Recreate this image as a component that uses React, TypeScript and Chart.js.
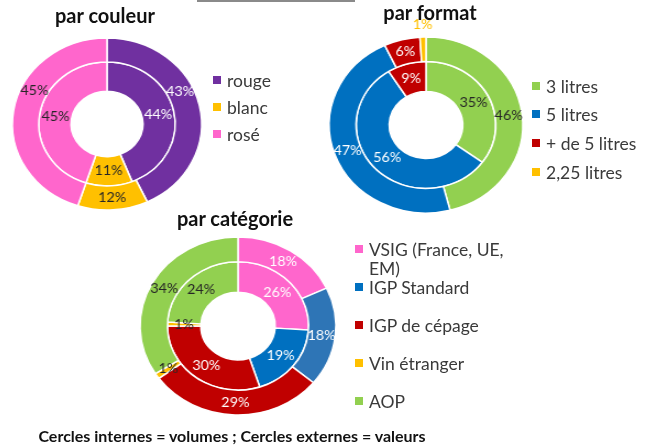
import React, { useEffect, useRef } from "react";
import { Chart, registerables } from "chart.js";

Chart.register(...registerables);

// ---- Data ----
const couleurLabels = ["rouge", "blanc", "rosé"];
const couleurValeurs = [43, 12, 45]; // cercle externe = valeurs
const couleurVolumes = [44, 11, 45]; // cercle interne = volumes

const formatLabels = ["3 litres", "5 litres", "+ de 5 litres", "2,25 litres"];
const formatValeurs = [46, 47, 6, 1];
const formatVolumes = [35, 56, 9, 0];

const categorieLabels = ["VSIG (France, UE, EM)", "IGP Standard", "IGP de cépage", "Vin étranger", "AOP"];
const categorieValeurs = [18, 18, 29, 1, 34];
const categorieVolumes = [26, 19, 30, 1, 24];

const titles = ["par couleur", "par format", "par catégorie"];
const footer = "Cercles internes = volumes ; Cercles externes = valeurs";

// ---- Styles ----
const PURPLE = "#7030A0";
const YELLOW = "#FFC000";
const PINK = "#FF66CC";
const GREEN = "#92D050";
const BLUE = "#0070C0";
const BLUE2 = "#2E75B6";
const RED = "#C00000";
const DARK = "#262626";
const WHITE = "#ffffff";
const FONT = "Lato, 'Open Sans', sans-serif";

const labelPlugin = {
  id: "ringLabels",
  afterDatasetsDraw(chart: any, _args: any, opts: any) {
    const ctx = chart.ctx;
    ctx.save();
    ctx.font = `13px ${FONT}`;
    ctx.textAlign = "center";
    ctx.textBaseline = "middle";
    chart.data.datasets.forEach((ds: any, i: number) => {
      const meta = chart.getDatasetMeta(i);
      meta.data.forEach((arc: any, j: number) => {
        const v = ds.data[j];
        if (!v) return;
        const p = arc.getProps(["x", "y", "startAngle", "endAngle", "innerRadius", "outerRadius"], true);
        let ang = (p.startAngle + p.endAngle) / 2;
        const ov = opts.angles && opts.angles[i] && opts.angles[i][j];
        if (ov != null) ang = ((ov - 90) * Math.PI) / 180;
        let r = (p.innerRadius + p.outerRadius) / 2;
        const out = opts.outside && opts.outside.some((o: number[]) => o[0] === i && o[1] === j);
        if (out) r = p.outerRadius + 12;
        ctx.fillStyle = opts.colors[i][j];
        ctx.fillText(`${v}%`, p.x + r * Math.cos(ang), p.y + r * Math.sin(ang));
      });
    });
    ctx.restore();
  },
};

type RingProps = {
  cx: number;
  cy: number;
  radius: number;
  labels: string[];
  outer: number[];
  inner: number[];
  outerColors: string[];
  innerColors: string[];
  labelColors: string[][];
  angles?: (number | null)[][];
  outside?: number[][];
};

const SIZE = 220;

function Ring(props: RingProps) {
  const ref = useRef<HTMLCanvasElement>(null);
  useEffect(() => {
    if (!ref.current) return;
    const chart = new Chart(ref.current, {
      type: "doughnut",
      data: {
        labels: props.labels,
        datasets: [
          { data: props.outer, backgroundColor: props.outerColors, borderColor: WHITE, borderWidth: 1.5, weight: 1 },
          { data: props.inner, backgroundColor: props.innerColors, borderColor: WHITE, borderWidth: 1.5, weight: 1.22 },
        ],
      },
      options: {
        responsive: false,
        animation: false,
        cutout: "38%",
        radius: props.radius,
        plugins: {
          legend: { display: false },
          tooltip: { enabled: false },
          ringLabels: { colors: props.labelColors, angles: props.angles, outside: props.outside },
        } as any,
      },
      plugins: [labelPlugin],
    });
    return () => chart.destroy();
  }, []);
  return (
    <div
      style={{
        position: "absolute",
        left: props.cx - SIZE / 2,
        top: props.cy - SIZE / 2,
        width: SIZE,
        height: SIZE,
        transform: "scaleX(1.1)",
        transformOrigin: "center center",
      }}
    >
      <canvas ref={ref} width={SIZE} height={SIZE} style={{ width: SIZE, height: SIZE, display: "block" }} />
    </div>
  );
}

function LegendItem({ x, y, color, text, width }: { x: number; y: number; color: string; text: string; width?: number }) {
  return (
    <>
      <div style={{ position: "absolute", left: x, top: y - 4, width: 8, height: 8, background: color }} />
      <div
        style={{
          position: "absolute",
          left: x + 14,
          top: y - 9.5,
          width: width || 200,
          fontFamily: FONT,
          fontSize: 17.5,
          lineHeight: "19px",
          color: "#3a3a3a",
          whiteSpace: width ? "normal" : "nowrap",
        }}
      >
        {text}
      </div>
    </>
  );
}

function Title({ x, y, text, size }: { x: number; y: number; text: string; size: number }) {
  return (
    <div
      style={{
        position: "absolute",
        left: x,
        top: y,
        transform: "translate(-50%, -50%)",
        fontFamily: FONT,
        fontWeight: 700,
        fontSize: size,
        color: "#111",
        whiteSpace: "nowrap",
      }}
    >
      {text}
    </div>
  );
}

export default function App() {
  const c1Colors = [PURPLE, YELLOW, PINK];
  const c2Colors = [GREEN, BLUE, RED, YELLOW];
  const c3Outer = [PINK, BLUE2, RED, YELLOW, GREEN];
  const c3Inner = [PINK, BLUE, RED, YELLOW, GREEN];
  const y1 = [80, 107, 134];
  const y2 = [86, 114, 143, 172];
  const y3 = [249, 287, 325, 363, 401];
  return (
    <div style={{ position: "absolute", left: 0, top: 0, width: 652, height: 446, background: "#fff", overflow: "hidden" }}>
      <div style={{ position: "absolute", left: 197, top: 0, width: 158, height: 2, background: "#8a8a8a" }} />
      <Ring
        cx={107}
        cy={124}
        radius={86}
        labels={couleurLabels}
        outer={couleurValeurs}
        inner={couleurVolumes}
        outerColors={c1Colors}
        innerColors={c1Colors}
        labelColors={[
          [WHITE, DARK, DARK],
          [WHITE, DARK, DARK],
        ]}
        angles={[
          [64, null, 297],
          [null, null, null],
        ]}
      />
      <Ring
        cx={426}
        cy={124.5}
        radius={88}
        labels={formatLabels}
        outer={formatValeurs}
        inner={formatVolumes}
        outerColors={c2Colors}
        innerColors={c2Colors}
        labelColors={[
          [DARK, WHITE, WHITE, YELLOW],
          [DARK, WHITE, WHITE, YELLOW],
        ]}
        outside={[[0, 3]]}
      />
      <Ring
        cx={238}
        cy={326}
        radius={89}
        labels={categorieLabels}
        outer={categorieValeurs}
        inner={categorieVolumes}
        outerColors={c3Outer}
        innerColors={c3Inner}
        labelColors={[
          [WHITE, WHITE, WHITE, DARK, DARK],
          [WHITE, WHITE, WHITE, DARK, DARK],
        ]}
      />
      <Title x={105} y={15} text={titles[0]} size={20} />
      <Title x={430} y={12} text={titles[1]} size={20} />
      <Title x={235} y={218} text={titles[2]} size={20} />
      {couleurLabels.map((l, i) => (
        <LegendItem key={l} x={213} y={y1[i]} color={c1Colors[i]} text={l} />
      ))}
      {formatLabels.map((l, i) => (
        <LegendItem key={l} x={532} y={y2[i]} color={c2Colors[i]} text={l} />
      ))}
      {categorieLabels.map((l, i) => (
        <LegendItem key={l} x={355} y={y3[i]} color={c3Inner[i]} text={l} width={i === 0 ? 142 : undefined} />
      ))}
      <Title x={232} y={435} text={footer} size={16} />
    </div>
  );
}
